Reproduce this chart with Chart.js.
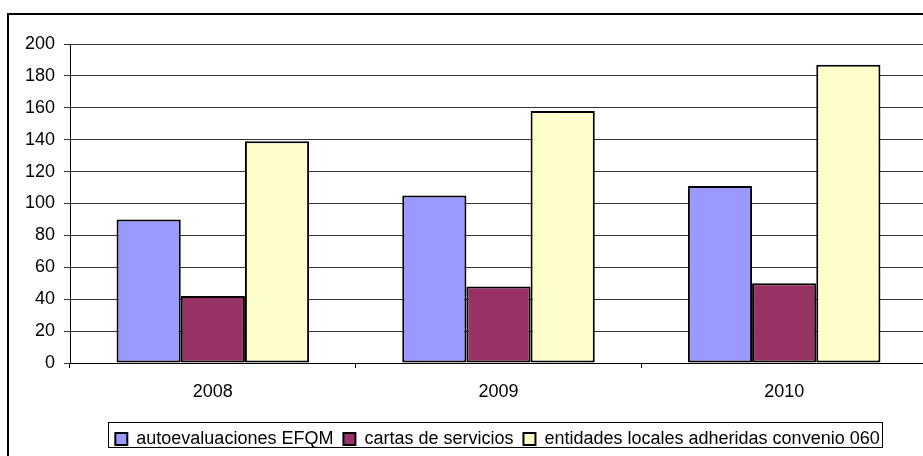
<!DOCTYPE html>
<html><head><meta charset="utf-8">
<script src="https://cdn.jsdelivr.net/npm/chart.js@4/dist/chart.umd.min.js"></script>
<style>html,body{margin:0;padding:0;overflow:hidden;background:#fff}#wrap{width:927px;height:470px}</style>
</head><body><div id="wrap"><canvas id="c" width="927" height="470"></canvas></div>
<script>
const categories = ["2008", "2009", "2010"];
const seriesNames = ["autoevaluaciones EFQM", "cartas de servicios", "entidades locales adheridas convenio 060"];
const autoevaluaciones = [90, 105, 111];
const cartas = [42, 48, 50];
const entidades = [139, 158, 187];
const yTicks = [0, 20, 40, 60, 80, 100, 120, 140, 160, 180, 200];
const colors = ["#9999FF", "#993366", "#FFFFCC"];

const FONT = {family: "'Liberation Sans', Arial, sans-serif", size: 18};

const frame = {
  id: 'frame',
  afterLayout(chart) {
    const lg = chart.legend;
    if (lg) {
      lg.left += 34; lg.right += 34;
      lg.adjustHitBoxes();
    }
  },
  beforeDraw(chart) {
    const ctx = chart.ctx;
    ctx.save();
    ctx.fillStyle = '#fff';
    ctx.fillRect(0, 0, chart.width, chart.height);
    ctx.restore();
  },
  afterDraw(chart) {
    const ctx = chart.ctx;
    ctx.save();
    ctx.strokeStyle = '#000';
    ctx.lineWidth = 2;
    ctx.strokeRect(8, 14, 1000, 600);
    const lg = chart.legend;
    if (lg) {
      ctx.lineWidth = 1;
      ctx.strokeStyle = '#000';
      const items = lg.legendHitBoxes;
      if (items && items.length) {
        const l = items[0].left - 7, r = items[items.length-1].left + items[items.length-1].width + 3;
        ctx.strokeRect(Math.round(l) + 0.5, 422.5, Math.round(r - l), 25);
      }
    }
    ctx.restore();
  }
};

new Chart(document.getElementById('c'), {
  type: 'bar',
  data: {
    labels: categories,
    datasets: [
      {label: seriesNames[0], data: autoevaluaciones, backgroundColor: colors[0]},
      {label: seriesNames[1], data: cartas, backgroundColor: colors[1]},
      {label: seriesNames[2], data: entidades, backgroundColor: colors[2]}
    ].map(d => Object.assign(d, {borderColor: '#000', borderWidth: 2, borderSkipped: false, categoryPercentage: 0.674, barPercentage: 1}))
  },
  options: {
    responsive: false,
    animation: false,
    devicePixelRatio: 1,
    layout: {padding: {left: 0, right: 0, top: 44, bottom: 12}},
    plugins: {
      legend: {
        position: 'bottom',
        labels: {font: FONT, color: '#000', boxWidth: 12, boxHeight: 12, padding: 10}
      },
      tooltip: {enabled: false}
    },
    scales: {
      x: {
        grid: {drawOnChartArea: false, offset: true, tickLength: 5, color: '#000'},
        border: {color: '#000', width: 1},
        ticks: {font: FONT, color: '#000', padding: 13, maxRotation: 0},
        afterFit(s) { s.height = 57; }
      },
      y: {
        min: 0, max: 200,
        afterBuildTicks(s) { s.ticks = yTicks.map(v => ({value: v})); },
        grid: {color: '#333', lineWidth: 1, tickLength: 6},
        border: {color: '#000', width: 1},
        ticks: {font: FONT, color: '#000', padding: 9},
        afterFit(s) { s.width = 70; }
      }
    }
  },
  plugins: [frame]
});
</script></body></html>
